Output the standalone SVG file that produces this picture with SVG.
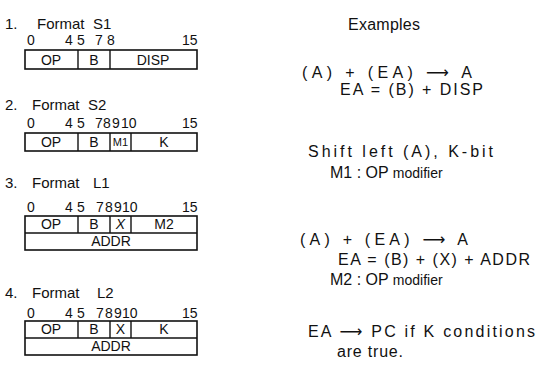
<svg xmlns="http://www.w3.org/2000/svg" width="537" height="375" viewBox="0 0 537 375">
<style>
text{font-family:"Liberation Sans","DejaVu Sans",sans-serif;fill:#111}
.t{font-size:15px}
.n{font-size:14px}
.f{font-size:14px;text-anchor:middle}
.s{font-size:11px;text-anchor:middle}
.e{font-size:16px}
.m{font-size:14px}
.box{fill:none;stroke:#111;stroke-width:1.6}
.div{stroke:#111;stroke-width:1.4}
</style>
<rect width="537" height="375" fill="#fff"/>

<g id="formatS1">
<text class="t" y="29"><tspan x="5">1.</tspan><tspan x="37">Format</tspan><tspan x="93">S1</tspan></text>
<text class="n" y="45"><tspan x="27">0</tspan><tspan x="65">4</tspan><tspan x="77">5</tspan><tspan x="95">7</tspan><tspan x="107">8</tspan><tspan x="182">15</tspan></text>
<rect class="box" x="25" y="50" width="172" height="19"/>
<line class="div" x1="78" y1="50" x2="78" y2="69"/>
<line class="div" x1="110" y1="50" x2="110" y2="69"/>
<text class="f" x="51" y="65">OP</text>
<text class="f" x="94" y="65">B</text>
<text class="f" x="153" y="65">DISP</text>
</g>

<g id="formatS2">
<text class="t" y="110"><tspan x="5">2.</tspan><tspan x="32">Format</tspan><tspan x="88">S2</tspan></text>
<text class="n" y="128"><tspan x="27">0</tspan><tspan x="65">4</tspan><tspan x="77">5</tspan><tspan x="95">7</tspan><tspan x="103">8</tspan><tspan x="112">9</tspan><tspan x="121">10</tspan><tspan x="182">15</tspan></text>
<rect class="box" x="25" y="133" width="172" height="18"/>
<line class="div" x1="78" y1="133" x2="78" y2="151"/>
<line class="div" x1="110" y1="133" x2="110" y2="151"/>
<line class="div" x1="131" y1="133" x2="131" y2="151"/>
<text class="f" x="51" y="147">OP</text>
<text class="f" x="94" y="147">B</text>
<text class="s" x="120.5" y="146">M1</text>
<text class="f" x="164" y="147">K</text>
</g>

<g id="formatL1">
<text class="t" y="188"><tspan x="5">3.</tspan><tspan x="32">Format</tspan><tspan x="93">L1</tspan></text>
<text class="n" y="212"><tspan x="27">0</tspan><tspan x="65">4</tspan><tspan x="77">5</tspan><tspan x="96">7</tspan><tspan x="105">8</tspan><tspan x="114">9</tspan><tspan x="122">10</tspan><tspan x="182">15</tspan></text>
<rect class="box" x="25" y="216" width="172" height="34"/>
<line class="div" x1="25" y1="233" x2="197" y2="233"/>
<line class="div" x1="78" y1="216" x2="78" y2="233"/>
<line class="div" x1="110" y1="216" x2="110" y2="233"/>
<line class="div" x1="131" y1="216" x2="131" y2="233"/>
<text class="f" x="51" y="229">OP</text>
<text class="f" x="94" y="229">B</text>
<text class="f" x="120.5" y="229" font-style="italic">X</text>
<text class="f" x="164" y="229">M2</text>
<text class="f" x="111" y="246">ADDR</text>
</g>

<g id="formatL2">
<text class="t" y="298"><tspan x="5">4.</tspan><tspan x="32">Format</tspan><tspan x="97">L2</tspan></text>
<text class="n" y="318"><tspan x="27">0</tspan><tspan x="65">4</tspan><tspan x="77">5</tspan><tspan x="96">7</tspan><tspan x="105">8</tspan><tspan x="114">9</tspan><tspan x="122">10</tspan><tspan x="182">15</tspan></text>
<rect class="box" x="25" y="321" width="172" height="34"/>
<line class="div" x1="25" y1="338" x2="197" y2="338"/>
<line class="div" x1="78" y1="321" x2="78" y2="338"/>
<line class="div" x1="110" y1="321" x2="110" y2="338"/>
<line class="div" x1="131" y1="321" x2="131" y2="338"/>
<text class="f" x="51" y="334">OP</text>
<text class="f" x="94" y="334">B</text>
<text class="f" x="120.5" y="334">X</text>
<text class="f" x="164" y="334">K</text>
<text class="f" x="111" y="351">ADDR</text>
</g>

<g id="examples">
<text class="e" x="348" y="30" textLength="72" lengthAdjust="spacing">Examples</text>
<text class="e" x="302" y="78" textLength="170" lengthAdjust="spacing">(A) + (EA) ⟶ A</text>
<text class="e" x="340" y="95" textLength="143" lengthAdjust="spacing">EA = (B) + DISP</text>
<text class="e" x="308" y="157" textLength="185" lengthAdjust="spacing">Shift left (A), K-bit</text>
<text class="e" x="330" y="178"><tspan>M1 : OP </tspan><tspan class="m">modifier</tspan></text>
<text class="e" x="300" y="245" textLength="168" lengthAdjust="spacing">(A) + (EA) ⟶ A</text>
<text class="e" x="338" y="265" textLength="192" lengthAdjust="spacing">EA = (B) + (X) + ADDR</text>
<text class="e" x="330" y="285"><tspan>M2 : OP </tspan><tspan class="m">modifier</tspan></text>
<text class="e" x="308" y="337" textLength="227" lengthAdjust="spacing">EA ⟶ PC if K conditions</text>
<text class="e" x="337" y="357" textLength="66" lengthAdjust="spacing">are true.</text>
</g>
</svg>
